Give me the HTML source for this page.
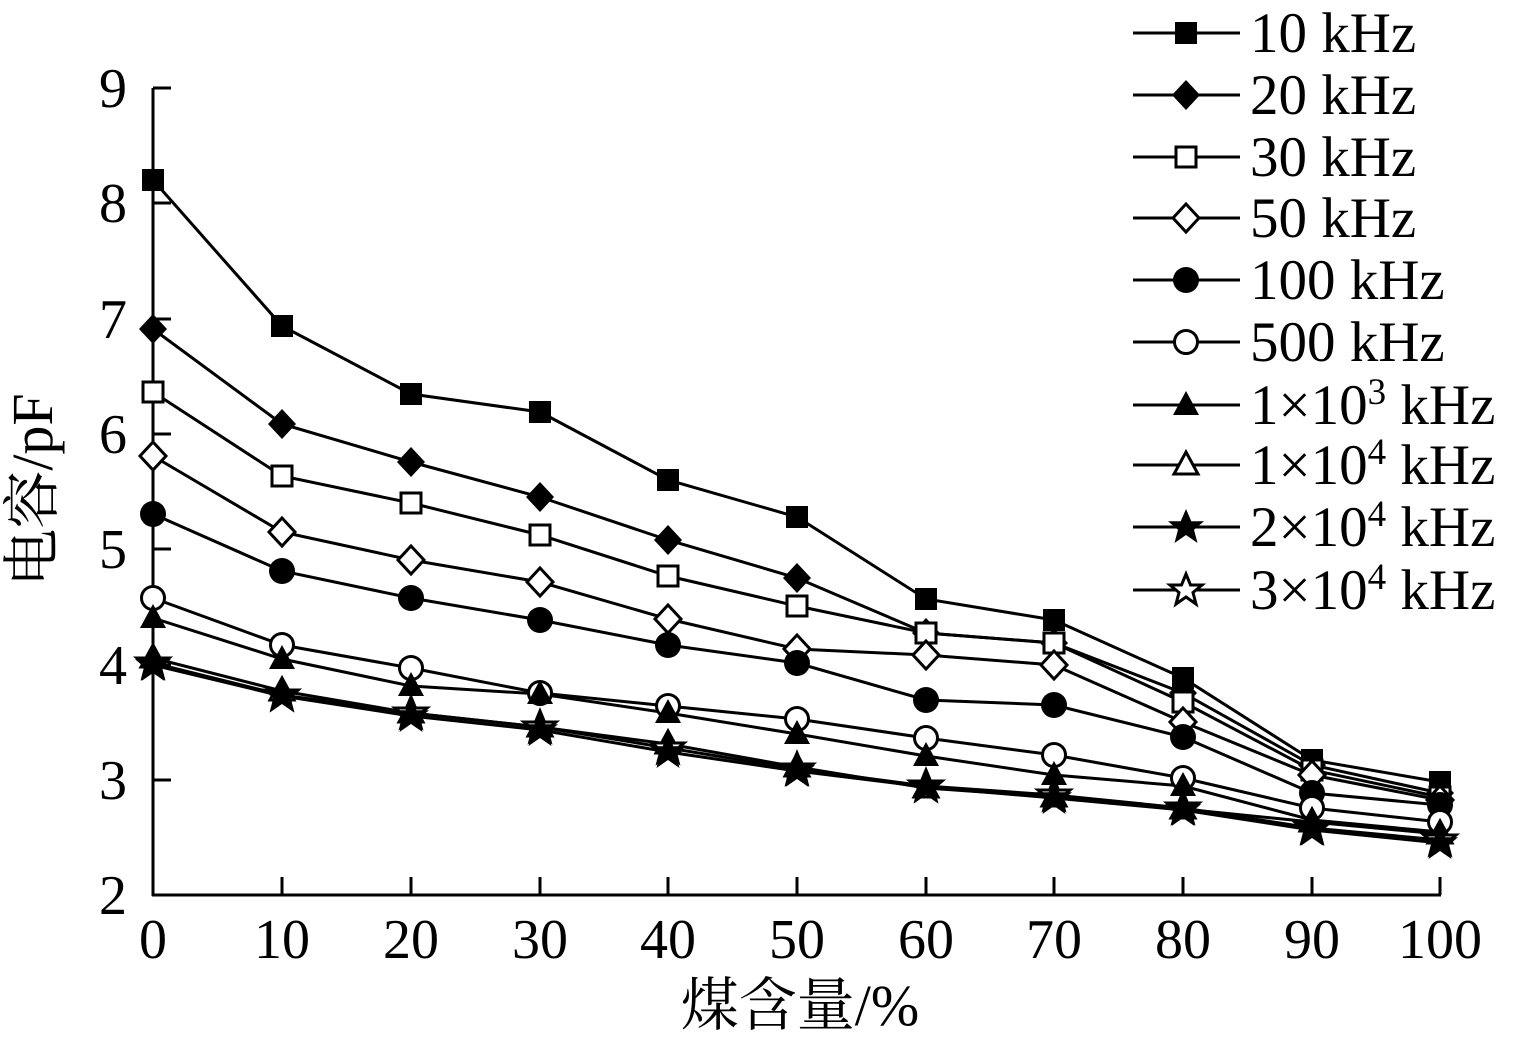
<!DOCTYPE html>
<html><head><meta charset="utf-8"><style>
html,body{margin:0;padding:0;background:#fff}
svg text{font-family:"Liberation Serif","Noto Serif CJK SC",serif;fill:#000}
</style></head><body>
<svg width="1514" height="1042" viewBox="0 0 1514 1042" xmlns="http://www.w3.org/2000/svg">
<defs>
<g id="sqF"><rect x="-11" y="-11" width="22" height="22" fill="#000"/></g>
<g id="sqO"><rect x="-10" y="-10" width="20" height="20" fill="#fff" stroke="#000" stroke-width="3"/></g>
<g id="diF"><polygon points="0,-15 14,0 0,15 -14,0" fill="#000"/></g>
<g id="diO"><polygon points="0,-14 13,0 0,14 -13,0" fill="#fff" stroke="#000" stroke-width="3"/></g>
<g id="ciF"><circle r="13" fill="#000"/></g>
<g id="ciO"><circle r="11.5" fill="#fff" stroke="#000" stroke-width="3"/></g>
<g id="trF"><polygon points="0,-14 13,10 -13,10" fill="#000"/></g>
<g id="trO"><polygon points="0,-13 12,9 -12,9" fill="#fff" stroke="#000" stroke-width="3"/></g>
<g id="stF"><polygon points="0,-18 5.3,-5.8 18,-5.8 8,2.7 11.5,16 0,8 -11.5,16 -8,2.7 -18,-5.8 -5.3,-5.8" fill="#000"/></g>
<g id="stO"><polygon points="0,-16 4.5,-5 16,-5 7,2.5 10,14 0,7 -10,14 -7,2.5 -16,-5 -4.5,-5" fill="#fff" stroke="#000" stroke-width="3"/></g>
</defs>
<g stroke="#000" stroke-width="3" fill="none">
<line x1="153" y1="88" x2="153" y2="896"/>
<line x1="152" y1="895" x2="1441" y2="895"/>
<line x1="153" y1="88" x2="171" y2="88"/>
<line x1="153" y1="203" x2="171" y2="203"/>
<line x1="153" y1="319" x2="171" y2="319"/>
<line x1="153" y1="434" x2="171" y2="434"/>
<line x1="153" y1="549" x2="171" y2="549"/>
<line x1="153" y1="665" x2="171" y2="665"/>
<line x1="153" y1="780" x2="171" y2="780"/>
<line x1="282" y1="895" x2="282" y2="877"/>
<line x1="411" y1="895" x2="411" y2="877"/>
<line x1="540" y1="895" x2="540" y2="877"/>
<line x1="668" y1="895" x2="668" y2="877"/>
<line x1="797" y1="895" x2="797" y2="877"/>
<line x1="926" y1="895" x2="926" y2="877"/>
<line x1="1054" y1="895" x2="1054" y2="877"/>
<line x1="1183" y1="895" x2="1183" y2="877"/>
<line x1="1312" y1="895" x2="1312" y2="877"/>
<line x1="1440" y1="895" x2="1440" y2="877"/>
</g>
<g font-size="56" text-anchor="end">
<text x="127" y="107">9</text><text x="127" y="222">8</text><text x="127" y="338">7</text>
<text x="127" y="453">6</text><text x="127" y="568">5</text><text x="127" y="684">4</text>
<text x="127" y="799">3</text><text x="127" y="914">2</text>
</g>
<g font-size="56" text-anchor="middle">
<text x="153" y="958">0</text><text x="282" y="958">10</text><text x="411" y="958">20</text>
<text x="540" y="958">30</text><text x="668" y="958">40</text><text x="797" y="958">50</text>
<text x="926" y="958">60</text><text x="1054" y="958">70</text><text x="1183" y="958">80</text>
<text x="1312" y="958">90</text><text x="1440" y="958">100</text>
<text x="800" y="1025" font-size="58">煤含量/%</text>
<text transform="translate(52,490) rotate(-90)" font-size="58">电容/pF</text>
</g>
<g id="series" stroke="#000" stroke-width="3" fill="none"></g>
<g id="legend"></g>
</svg>
<script>
var xs=[153,282,411,540,668,797,926,1054,1183,1312,1440];
var sup=function(n){return "1×10<tspan dy='-20' font-size='37'>"+n+"</tspan><tspan dy='20'> kHz</tspan>";};
var data=[
["sqF",[180,326,394,412,480,517,599,620,678,760,782],"10 kHz"],
["diF",[329,424,462,497,540,578,633,643,693,765,793],"20 kHz"],
["sqO",[392,476,503,535,576,606,633,643,702,770,797],"30 kHz"],
["diO",[456,532,560,582,619,649,655,665,722,775,800],"50 kHz"],
["ciF",[514,571,598,620,645,663,700,705,737,793,805],"100 kHz"],
["ciO",[598,645,668,693,706,719,738,755,778,808,822],"500 kHz"],
["trF",[618,659,686,694,713,734,756,775,786,820,832],sup(3)],
["trO",[658,691,713,727,744,767,788,797,809,822,834],sup(4)],
["stF",[665,696,716,730,752,771,787,798,810,830,843],sup(4).replace("1×","2×")],
["stO",[663,695,713,727,748,769,786,795,808,828,840],sup(4).replace("1×","3×")]];
var ly=[33,95,157,218,280,342,405,465,527,590];
var s="",l="",m="";
data.forEach(function(d){
 s+='<polyline points="'+xs.map(function(x,j){return x+','+d[1][j]}).join(' ')+'"/>';
});
var order=[0,1,2,3,4,5,7,6,9,8];
order.forEach(function(i){var d=data[i];
 xs.forEach(function(x,j){m+='<use href="#'+d[0]+'" x="'+x+'" y="'+d[1][j]+'"/>';});
});
data.forEach(function(d,i){
 l+='<line x1="1133" y1="'+ly[i]+'" x2="1240" y2="'+ly[i]+'" stroke="#000" stroke-width="3"/>';
 l+='<use href="#'+d[0]+'" x="1186" y="'+ly[i]+'"/>';
 l+='<text x="1250" y="'+(ly[i]+19)+'" font-size="57">'+d[2]+'</text>';
});
document.getElementById("series").innerHTML=s;
document.getElementById("legend").innerHTML=m+l;
</script>
</body></html>
